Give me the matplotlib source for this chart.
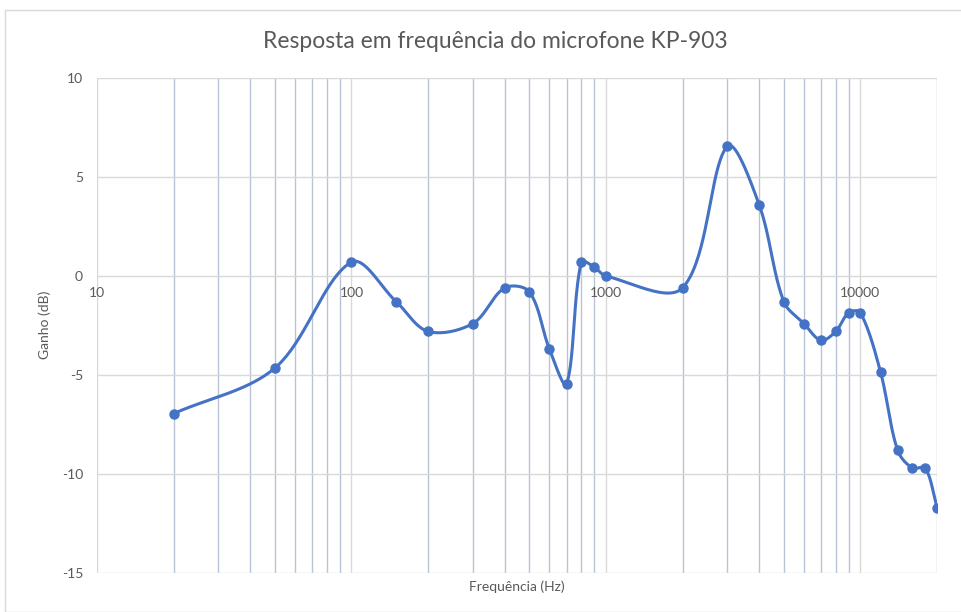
import numpy as np
import matplotlib
matplotlib.use("Agg")
from matplotlib import pyplot as plt
from matplotlib.patches import Rectangle

# ===== Dados =====
freq_hz = [20, 50, 100, 150, 200, 300, 400, 500, 600, 700, 800, 900, 1000,
           2000, 3000, 4000, 5000, 6000, 7000, 8000, 9000, 10000,
           12000, 14000, 16000, 18000, 20000]
ganho_db = [-6.95, -4.65, 0.7, -1.3, -2.8, -2.4, -0.6, -0.8, -3.7, -5.45, 0.7, 0.45, 0.0,
            -0.6, 6.55, 3.6, -1.3, -2.4, -3.25, -2.8, -1.85, -1.85,
            -4.85, -8.8, -9.7, -9.7, -11.7]
xtick_vals = [10, 100, 1000, 10000]
ytick_vals = [-15, -10, -5, 0, 5, 10]

title = "Resposta em frequência do microfone KP-903"
xlabel = "Frequência (Hz)"
ylabel = "Ganho (dB)"

line_color = "#4472c4"
text_color = "#595959"
major_grid = "#d9d9d9"
minor_grid = "#b8c3d5"

plt.rcParams['font.family'] = ['Lato', 'DejaVu Sans']


# ===== Suavização estilo Excel (Bezier, ponderada pelo comprimento) =====
def excel_smooth(xs, ys, n=40, sx=254.0, sy=19.8):
    u = np.log10(np.array(xs, dtype=float)) * sx
    v = np.array(ys, dtype=float) * sy
    pts = np.column_stack([u, v])
    ext = np.vstack([pts[0], pts, pts[-1]])
    seg_len = np.linalg.norm(np.diff(ext, axis=0), axis=1)
    out = []
    t = np.linspace(0, 1, n)[:, None]
    for i in range(1, len(ext) - 2):
        p0 = ext[i]
        p3 = ext[i + 1]
        d_prev, d_cur, d_next = seg_len[i - 1], seg_len[i], seg_len[i + 1]
        f1 = d_cur / (d_prev + d_cur) / 3 if d_prev + d_cur > 0 else 0
        f2 = d_cur / (d_cur + d_next) / 3 if d_cur + d_next > 0 else 0
        c1 = p0 + (ext[i + 1] - ext[i - 1]) * f1
        c2 = p3 - (ext[i + 2] - ext[i]) * f2
        seg = ((1 - t) ** 3) * p0 + 3 * ((1 - t) ** 2) * t * c1 + 3 * (1 - t) * t ** 2 * c2 + t ** 3 * p3
        out.append(seg)
    curve = np.vstack(out)
    return 10 ** (curve[:, 0] / sx), curve[:, 1] / sy


fig = plt.figure(figsize=(9.61, 6.12), dpi=100)
fig.patches.append(Rectangle((5 / 961, 0.0), 2.0, 1 - 10 / 612, transform=fig.transFigure,
                             fill=False, edgecolor="#d9d9d9", linewidth=1.0))
ax = fig.add_axes([97 / 961, 39 / 612, 840 / 961, 495 / 612])

ax.set_xscale('log')
ax.set_xlim(10, 20000)
ax.set_ylim(-15, 10)

# grade
minor_pos = [m * 10 ** d for d in range(1, 5) for m in range(2, 10) if m * 10 ** d <= 20000]
for xv in minor_pos:
    ax.axvline(xv, color=minor_grid, linewidth=1.0, zorder=1)
for xv in xtick_vals:
    ax.axvline(xv, color=major_grid, linewidth=1.0, zorder=1)
for yv in ytick_vals:
    ax.axhline(yv, color=major_grid, linewidth=1.0, zorder=1)

for s in ax.spines.values():
    s.set_visible(False)
ax.set_xticks([])
ax.set_xticks([], minor=True)
ax.set_yticks(ytick_vals)
ax.set_yticklabels([str(v) for v in ytick_vals], color=text_color, fontsize=10)
ax.tick_params(axis='y', length=0, pad=10)

# rótulos do eixo x junto de y=0
for xv in xtick_vals:
    ax.annotate(str(xv), (xv, 0), xytext=(0, -8), textcoords='offset points',
                ha='center', va='top', color=text_color, fontsize=10)

sx, sy = excel_smooth(freq_hz, ganho_db)
ax.plot(sx, sy, color=line_color, linewidth=2.2, zorder=3, solid_capstyle='round')
ax.plot(freq_hz, ganho_db, 'o', color=line_color, markersize=6.5, zorder=4)

fig.text(495 / 961, 1 - 42 / 612, title, ha='center', va='center', color=text_color, fontsize=16.5)
fig.text((97 + 937) / 2 / 961, 1 - 587 / 612, xlabel, ha='center', va='center',
         color=text_color, fontsize=10)
fig.text(45 / 961, 1 - 325 / 612, ylabel, ha='center', va='center', rotation=90,
         color=text_color, fontsize=10)

fig.savefig("out.png", dpi=100)
